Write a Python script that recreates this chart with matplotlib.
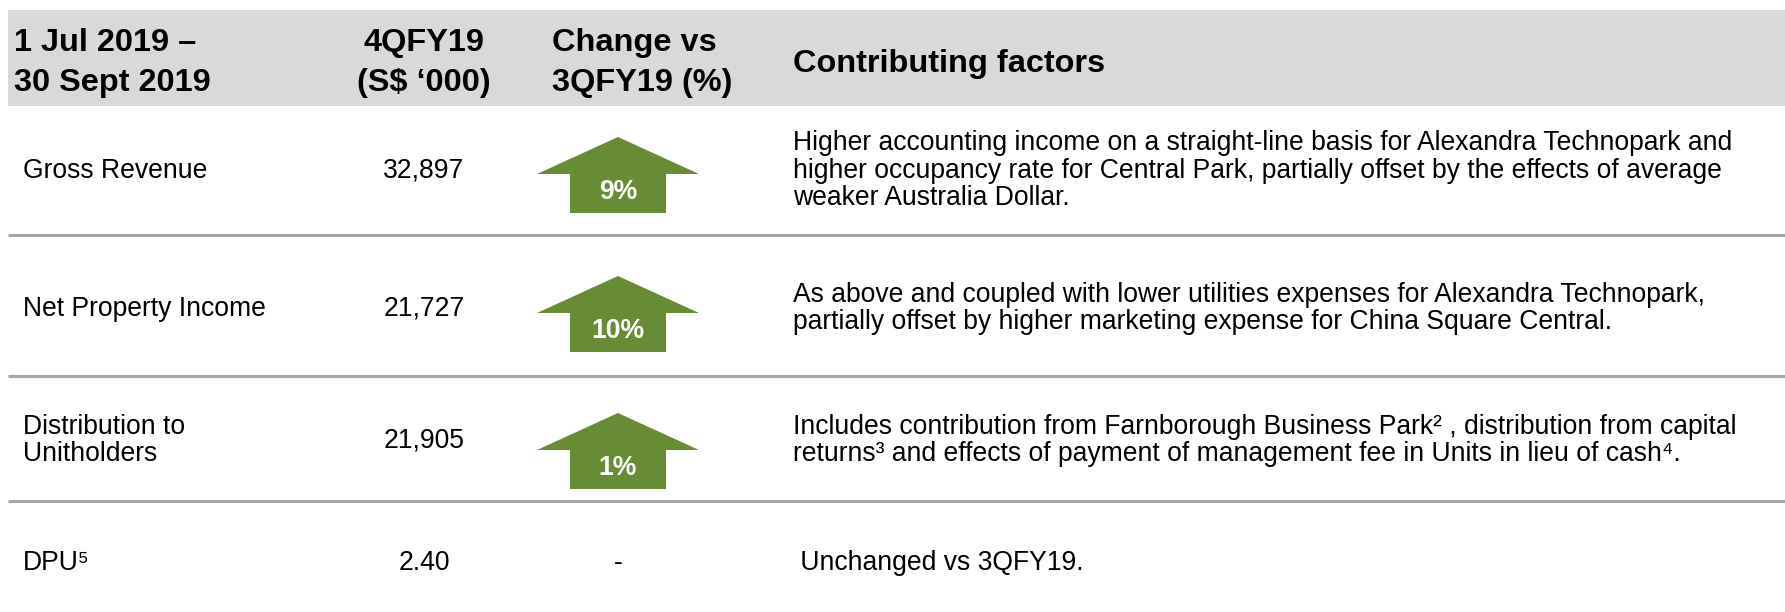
import matplotlib.pyplot as plt
from matplotlib.patches import Polygon, Rectangle

plt.rcParams['font.family'] = ['Liberation Sans', 'DejaVu Sans']

# ---------------------------------------------------------------------------
# Data
# ---------------------------------------------------------------------------

HEADERS = [["1 Jul 2019 –", "30 Sept 2019"], ["4QFY19", "(S$ ‘000)"],
           ["Change vs", "3QFY19 (%)"], ["Contributing factors"]]
ITEMS = [["Gross Revenue"], ["Net Property Income"],
         ["Distribution to", "Unitholders"], ["DPU⁵"]]
VALUES = ["32,897", "21,727", "21,905", "2.40"]
CHANGES = [9, 10, 1, None]
FACTORS = [
    ["Higher accounting income on a straight-line basis for Alexandra Technopark and",
     "higher occupancy rate for Central Park, partially offset by the effects of average",
     "weaker Australia Dollar."],
    ["As above and coupled with lower utilities expenses for Alexandra Technopark,",
     "partially offset by higher marketing expense for China Square Central."],
    ["Includes contribution from Farnborough Business Park² , distribution from capital",
     "returns³ and effects of payment of management fee in Units in lieu of cash⁴."],
    [" Unchanged vs 3QFY19."],
]

# ---------------------------------------------------------------------------
# Layout (pixel space)
# ---------------------------------------------------------------------------

W, H = 1785, 612
GREEN = "#678C35"
ROW_MID = [168, 306, 438, 560]
ARROW_TOP = [137, 276, 413]
ROW_LINES = [235, 376, 501]
LINE_H = 27.5      # body line pitch
HEAD_H = 40        # header line pitch


def lines(x, yc, rows, pitch, fs, ha="left", **kw):
    """Draw stacked single lines centred on yc, aligned by baseline."""
    n = len(rows)
    for k, s in enumerate(rows):
        y = yc + (k - (n - 1) / 2) * pitch + fs * 100 / 72 * 0.36
        ax.text(x, y, s, fontsize=fs, ha=ha, va="baseline", **kw)


fig = plt.figure(figsize=(W / 100, H / 100), dpi=100)
ax = fig.add_axes([0, 0, 1, 1])
ax.set_xlim(0, W)
ax.set_ylim(H, 0)
ax.axis("off")

# header band
ax.add_patch(Rectangle((8, 10), W - 8, 96, color="#D9D9D9", lw=0))
hfs = 23.4
lines(14, 59, HEADERS[0], HEAD_H, hfs, fontweight="bold")
lines(424, 59, HEADERS[1], HEAD_H, hfs, ha="center", fontweight="bold")
lines(552, 59, HEADERS[2], HEAD_H, hfs, fontweight="bold")
lines(793, 60, HEADERS[3], HEAD_H, hfs, fontweight="bold")

# separators
for y in ROW_LINES:
    ax.plot([8, W], [y, y], color="#A6A6A6", lw=2.2, solid_capstyle="butt")

bfs = 19.1
for i, y in enumerate(ROW_MID):
    lines(23, y, ITEMS[i], LINE_H, bfs)
    lines(424, y, [VALUES[i]], LINE_H, bfs, ha="center")
    lines(793, y, FACTORS[i], LINE_H, bfs)
    ch = CHANGES[i]
    cx = 618
    if ch is None:
        lines(cx, y, ["-"], LINE_H, bfs, ha="center")
        continue
    top = ARROW_TOP[i]
    shoulder, bot = top + 37, top + 76
    arrow = Polygon([(cx, top), (cx + 81, shoulder), (cx + 48, shoulder),
                     (cx + 48, bot), (cx - 48, bot), (cx - 48, shoulder),
                     (cx - 81, shoulder)], closed=True, color=GREEN, lw=0)
    ax.add_patch(arrow)
    lines(cx, shoulder + 15, [f"{ch}%"], LINE_H, bfs, ha="center",
          fontweight="bold", color="white")

fig.savefig("out.png", dpi=100)
